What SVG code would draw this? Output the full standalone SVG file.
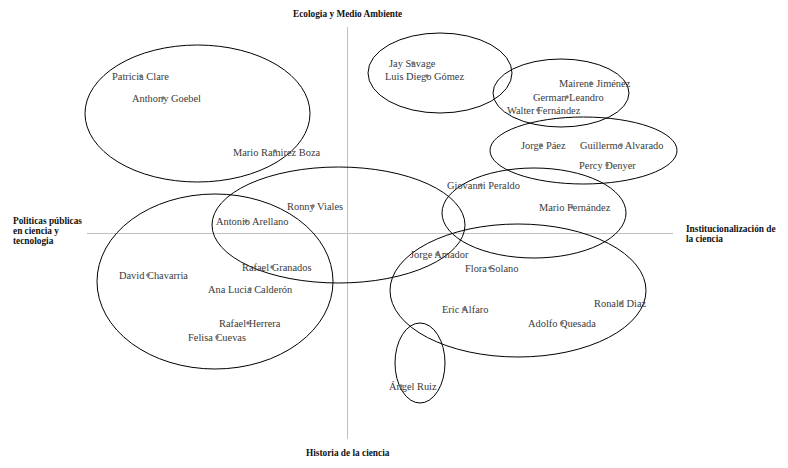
<svg xmlns="http://www.w3.org/2000/svg" width="788" height="468" viewBox="0 0 788 468">
<style>
.axis{stroke:#c0c0c0;stroke-width:1;fill:none}
.grp{stroke:#000;stroke-width:1;fill:none}
.nm{font-family:"Liberation Serif","Times New Roman",serif;font-size:10.4px;fill:#3a3a3a}
.ax{font-family:"Liberation Serif","Times New Roman",serif;font-size:9.3px;font-weight:bold;fill:#111}
.dot{fill:#7a7a7a}
</style>
<rect width="788" height="468" fill="#fff"/>
<g id="axes">
<line class="axis" x1="347.5" y1="27" x2="347.5" y2="439"/>
<line class="axis" x1="87" y1="233.5" x2="673" y2="233.5"/>
</g>
<g id="axis-labels">
<text class="ax" x="293" y="17">Ecologia y Medio Ambiente</text>
<text class="ax" x="306" y="456">Historia de la ciencia</text>
<text class="ax" x="13" y="224">Politicas públicas</text>
<text class="ax" x="13" y="234">en ciencia y</text>
<text class="ax" x="13" y="244">tecnologia</text>
<text class="ax" x="686" y="232">Institucionalización de</text>
<text class="ax" x="686" y="242">la ciencia</text>
</g>
<g id="clusters">
<ellipse id="c1" class="grp" cx="197.5" cy="113.5" rx="112.5" ry="68.5"/>
<ellipse id="c2" class="grp" cx="215" cy="281.5" rx="118" ry="87.5"/>
<ellipse id="c3" class="grp" cx="338.5" cy="225" rx="126.5" ry="58"/>
<ellipse id="c4" class="grp" cx="440" cy="73" rx="72" ry="40"/>
<ellipse id="c5" class="grp" cx="561" cy="93" rx="68" ry="34"/>
<ellipse id="c6" class="grp" cx="583.5" cy="150.5" rx="93.5" ry="33.5"/>
<ellipse id="c7" class="grp" cx="534" cy="213" rx="92" ry="45"/>
<ellipse id="c8" class="grp" cx="518" cy="290.5" rx="128" ry="66.5"/>
<ellipse id="c9" class="grp" cx="420" cy="363" rx="25" ry="40"/>
</g>
<g id="connectors"></g>
<g id="n-patricia"><text class="nm" x="112" y="80">Patricia Clare</text><circle class="dot" cx="141" cy="76" r="1.8"/></g>
<g id="n-anthony"><text class="nm" x="132" y="102">Anthony Goebel</text><circle class="dot" cx="163" cy="98" r="1.8"/></g>
<g id="n-mario-r"><text class="nm" x="233" y="156">Mario Ramirez Boza</text><circle class="dot" cx="275" cy="151" r="1.8"/></g>
<g id="n-ronny"><text class="nm" x="287" y="210">Ronny Viales</text><circle class="dot" cx="313" cy="206" r="1.8"/></g>
<g id="n-antonio"><text class="nm" x="216" y="225">Antonio Arellano</text><circle class="dot" cx="246" cy="221" r="1.8"/></g>
<g id="n-jay"><text class="nm" x="389" y="67">Jay Savage</text><circle class="dot" cx="413" cy="63" r="1.8"/></g>
<g id="n-luis"><text class="nm" x="385" y="80">Luis Diego Gómez</text><circle class="dot" cx="427" cy="76" r="1.8"/></g>
<g id="n-mairene"><text class="nm" x="559" y="87">Mairene Jiménez</text><circle class="dot" cx="591" cy="83" r="1.8"/></g>
<g id="n-german"><text class="nm" x="533" y="101">German Leandro</text><circle class="dot" cx="567" cy="97" r="1.8"/></g>
<g id="n-walter"><text class="nm" x="507" y="114">Walter Fernández</text><circle class="dot" cx="538" cy="110" r="1.8"/></g>
<g id="n-jorge-p"><text class="nm" x="521" y="149">Jorge Páez</text><circle class="dot" cx="541" cy="145" r="1.8"/></g>
<g id="n-guillermo"><text class="nm" x="580" y="149">Guillermo Alvarado</text><circle class="dot" cx="621" cy="145" r="1.8"/></g>
<g id="n-percy"><text class="nm" x="579" y="169">Percy Denyer</text><circle class="dot" cx="607" cy="165" r="1.8"/></g>
<g id="n-giovanni"><text class="nm" x="447" y="189">Giovanni Peraldo</text><circle class="dot" cx="481" cy="185" r="1.8"/></g>
<g id="n-mario-f"><text class="nm" x="539" y="211">Mario Fernández</text><circle class="dot" cx="572" cy="207" r="1.8"/></g>
<g id="n-david"><text class="nm" x="119" y="279">David Chavarria</text><circle class="dot" cx="148" cy="275" r="1.8"/></g>
<g id="n-rafael-g"><text class="nm" x="242" y="271">Rafael Granados</text><circle class="dot" cx="272" cy="267" r="1.8"/></g>
<g id="n-ana"><text class="nm" x="208" y="293">Ana Lucia Calderón</text><circle class="dot" cx="250" cy="289" r="1.8"/></g>
<g id="n-rafael-h"><text class="nm" x="219" y="327">Rafael Herrera</text><circle class="dot" cx="248" cy="323" r="1.8"/></g>
<g id="n-felisa"><text class="nm" x="188" y="341">Felisa Cuevas</text><circle class="dot" cx="217" cy="337" r="1.8"/></g>
<g id="n-jorge-a"><text class="nm" x="410" y="258">Jorge Amador</text><circle class="dot" cx="437" cy="254" r="1.8"/></g>
<g id="n-flora"><text class="nm" x="465" y="272">Flora Solano</text><circle class="dot" cx="490" cy="268" r="1.8"/></g>
<g id="n-eric"><text class="nm" x="442" y="313">Eric Alfaro</text><circle class="dot" cx="464" cy="309" r="1.8"/></g>
<g id="n-ronald"><text class="nm" x="594" y="307">Ronald Diaz</text><circle class="dot" cx="621" cy="303" r="1.8"/></g>
<g id="n-adolfo"><text class="nm" x="528" y="327">Adolfo Quesada</text><circle class="dot" cx="562" cy="323" r="1.8"/></g>
<g id="n-angel"><text class="nm" x="389" y="390">Ángel Ruiz</text><circle class="dot" cx="401" cy="386" r="1.8"/></g>
</svg>
